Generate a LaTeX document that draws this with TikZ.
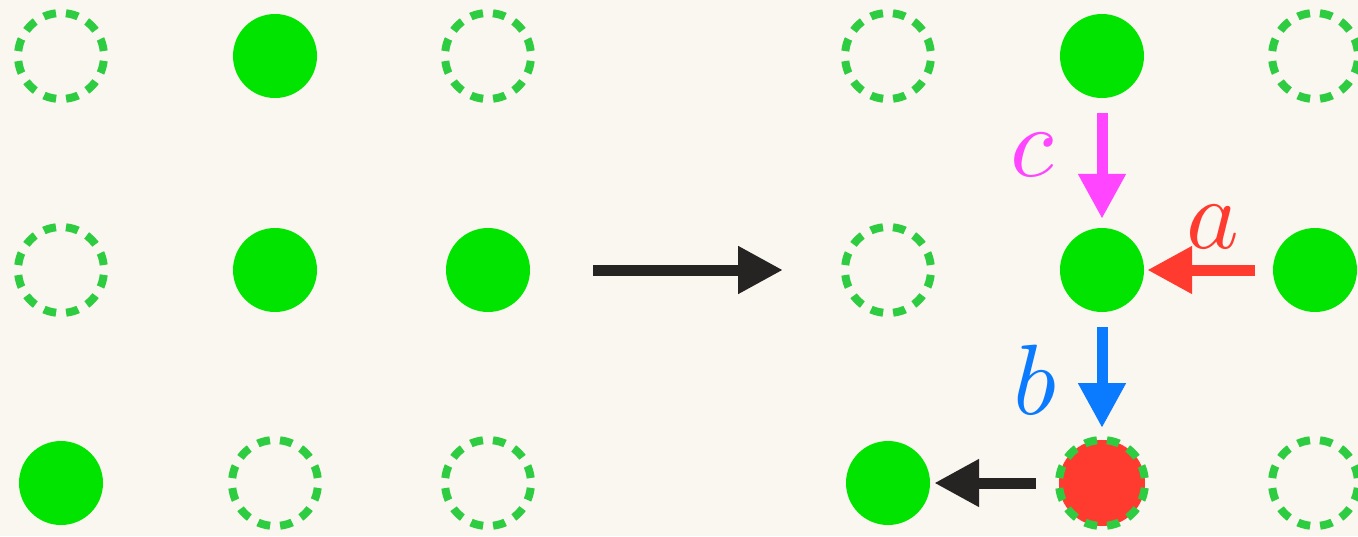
\documentclass[tikz,border=0pt]{standalone}
\usepackage{graphicx}
\usetikzlibrary{arrows.meta}
\definecolor{paper}{HTML}{FAF6F0}
\definecolor{site}{HTML}{00E400}
\definecolor{ring}{HTML}{2ECC40}
\definecolor{hot}{HTML}{FF3B30}
\definecolor{pinkc}{HTML}{FF45FF}
\definecolor{bluec}{HTML}{0A7AFF}
\definecolor{ink}{HTML}{262422}
\newcommand{\biglbl}[1]{\scalebox{10}{$#1$}}
\tikzset{
  full/.style={circle, fill=site, minimum size=84pt, inner sep=0pt},
  empty/.style={circle, minimum size=86pt, inner sep=0pt, draw=ring, line width=8pt,
    dash pattern=on 12.5pt off 10.02pt, dash phase=17.5pt},
  flagged/.style={empty, fill=hot},
  push/.style={line width=11pt, -{Triangle[length=45pt,width=45pt]}},
  lbl/.style={inner sep=0pt}
}
\begin{document}
\begin{tikzpicture}[x=1pt,y=-1pt]
  \fill[paper] (0,0) rectangle (1358,536);
  \useasboundingbox (0,0) rectangle (1358,536);

  % left lattice
  \node[empty] (l11) at (61,56) {};
  \node[full]  (l12) at (275,56) {};
  \node[empty] (l13) at (488,56) {};
  \node[empty] (l21) at (61,270) {};
  \node[full]  (l22) at (275,270) {};
  \node[full]  (l23) at (488,270) {};
  \node[full]  (l31) at (61,483) {};
  \node[empty] (l32) at (275,483) {};
  \node[empty] (l33) at (488,483) {};

  % right lattice
  \node[empty]   (r11) at (888,56) {};
  \node[full]    (r12) at (1102,56) {};
  \node[empty]   (r13) at (1315,56) {};
  \node[empty]   (r21) at (888,270) {};
  \node[full]    (r22) at (1102,270) {};
  \node[full]    (r23) at (1315,270) {};
  \node[full]    (r31) at (888,483) {};
  \node[flagged] (r32) at (1102,483) {};
  \node[empty]   (r33) at (1315,483) {};

  % transition arrow
  \coordinate (from) at (593,270);
  \coordinate (to) at (783,270);
  \draw[push, ink] (from) -- (to);

  % moves
  \coordinate (cstart) at (1102,113);
  \coordinate (astart) at (1255,270);
  \draw[push, pinkc, shorten >=9pt] (cstart) -- (r22.north);
  \draw[push, hot, shorten >=3pt] (astart) -- (r22.east);
  \draw[push, bluec, shorten <=15pt, shorten >=8pt] (r22.south) -- (r32.north);
  \draw[push, ink, shorten <=19pt, shorten >=4pt] (r32.west) -- (r31.east);

  % labels
  \node[lbl, text=pinkc] (lc) at (1032,155) {\biglbl{c}};
  \node[lbl, text=hot]   (la) at (1213,227) {\biglbl{a}};
  \node[lbl, text=bluec] (lb) at (1035,380) {\biglbl{b}};
\end{tikzpicture}
\end{document}
